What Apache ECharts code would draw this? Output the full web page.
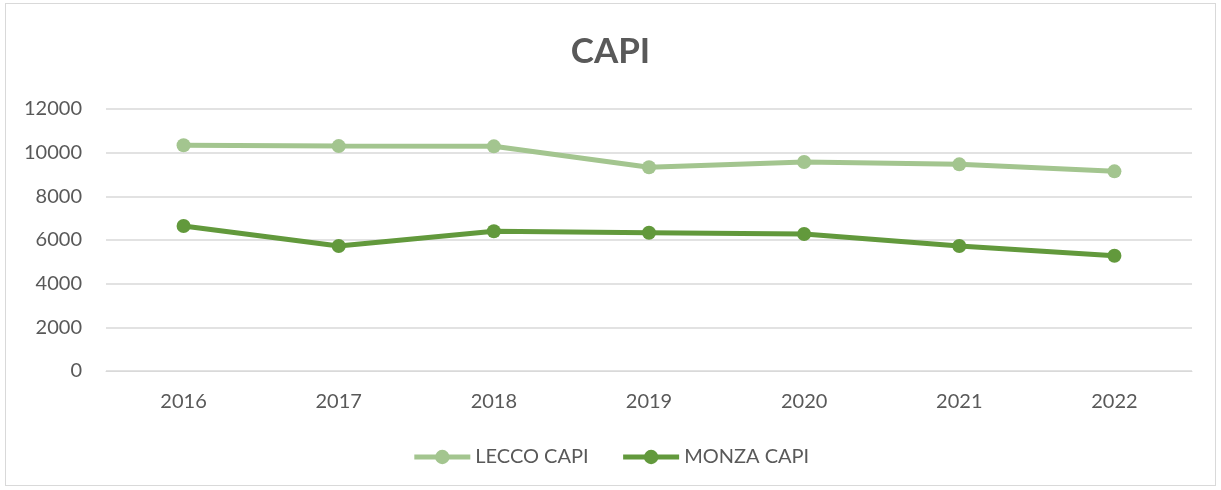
<!DOCTYPE html>
<html><head><meta charset="utf-8">
<script src="https://cdn.jsdelivr.net/npm/echarts@6/dist/echarts.min.js"></script>
<style>
html,body{margin:0;padding:0;background:#fff;}
#wrap{position:absolute;left:5px;top:3px;width:1211px;height:483px;border:1px solid #d9d9d9;box-sizing:border-box;}
#c{position:absolute;left:0;top:0;width:1221px;height:490px;}
</style></head>
<body><div id="wrap"></div><div id="c"></div>
<script>
const categories = ['2016','2017','2018','2019','2020','2021','2022'];
const leccoCapi = [10340, 10300, 10290, 9330, 9575, 9465, 9145];
const monzaCapi = [6640, 5725, 6400, 6335, 6275, 5725, 5280];
const seriesNames = ['LECCO CAPI','MONZA CAPI'];
const yTicks = {min:0, max:12000, interval:2000};

const chart = echarts.init(document.getElementById('c'));
const font = 'Lato, "Open Sans", sans-serif';
chart.setOption({
  animation:false,
  title:{text:'CAPI', left:'center', top:29, textStyle:{fontFamily:font, fontSize:35, fontWeight:'bold', color:'#595959'}},
  legend:{bottom:18, left:'center', itemWidth:56, itemHeight:18, itemGap:32,
    lineStyle:{width:5}, 
    textStyle:{fontFamily:font, fontSize:20, color:'#595959'}, data:seriesNames},
  grid:{left:106, right:29, top:109, bottom:119},
  xAxis:{type:'category', data:categories, boundaryGap:true,
    axisLine:{lineStyle:{color:'#d9d9d9', width:1}}, axisTick:{show:false},
    axisLabel:{fontFamily:font, fontSize:20, color:'#595959', margin:21}},
  yAxis:{type:'value', min:yTicks.min, max:yTicks.max, interval:yTicks.interval,
    axisLine:{show:false}, axisTick:{show:false},
    splitLine:{lineStyle:{color:'#d9d9d9', width:1.5}},
    axisLabel:{fontFamily:font, fontSize:20, color:'#595959', margin:24, formatter:v=>String(v)}},
  series:[
    {name:seriesNames[0], type:'line', data:leccoCapi, symbol:'circle', symbolSize:14,
      lineStyle:{width:5, color:'#a3c58f'}, itemStyle:{color:'#a3c58f'}},
    {name:seriesNames[1], type:'line', data:monzaCapi, symbol:'circle', symbolSize:14,
      lineStyle:{width:5, color:'#62993c'}, itemStyle:{color:'#62993c'}}
  ]
});
</script></body></html>
